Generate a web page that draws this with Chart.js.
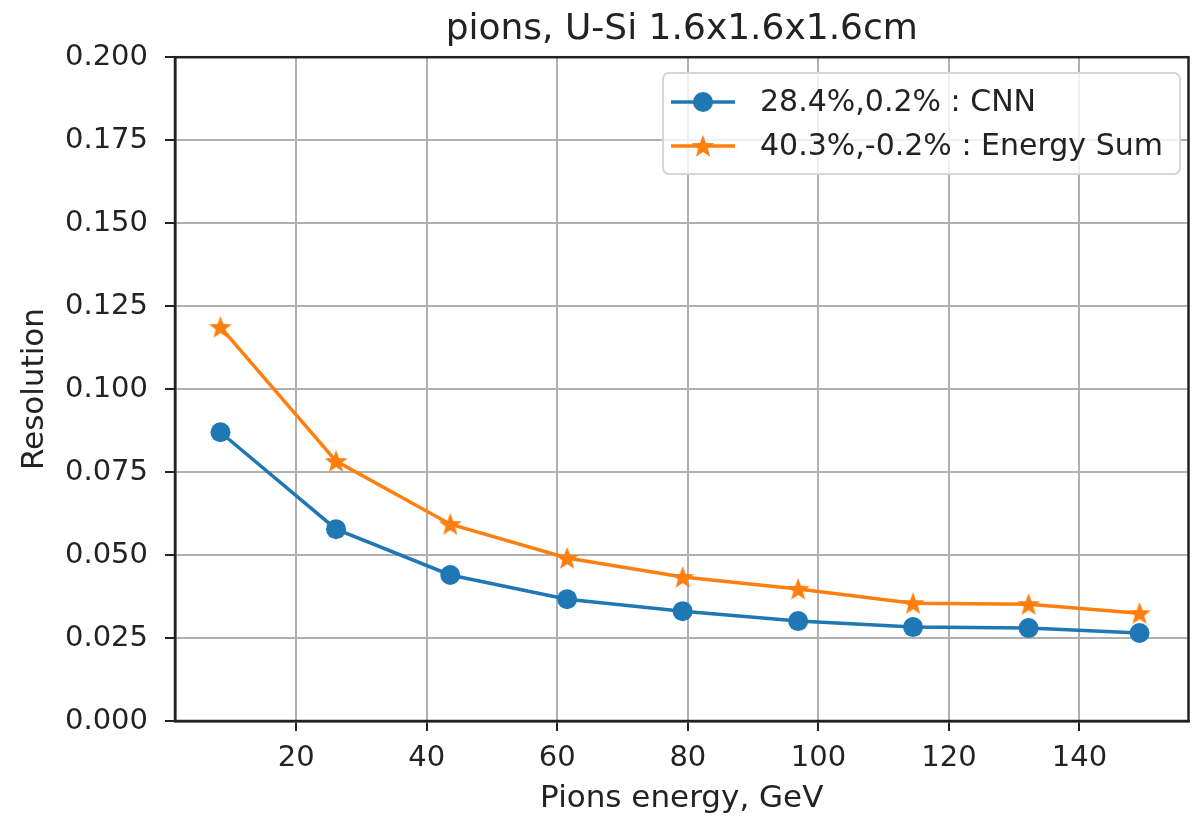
<!DOCTYPE html>
<html>
<head>
<meta charset="utf-8">
<title>pions, U-Si 1.6x1.6x1.6cm</title>
<script src="https://cdn.jsdelivr.net/npm/chart.js@4.4.1/dist/chart.umd.min.js"></script>
<style>
  html, body { margin: 0; padding: 0; background: #fff; overflow: hidden; }
  #wrap { width: 1203px; height: 818px; }
  #res-chart { display: block; }
</style>
</head>
<body>
<div id="wrap"><canvas id="res-chart" width="1203" height="818"></canvas></div>
<script>
// energy resolution vs beam energy, two reconstruction methods
var energies = [8.4, 26.1, 43.6, 61.5, 79.2, 96.9, 114.5, 132.2, 149.2];
var cnnRes = [0.0870, 0.0578, 0.0440, 0.0367, 0.0331, 0.0301, 0.0283, 0.0280, 0.0265];
var sumRes = [0.1187, 0.0783, 0.0593, 0.0491, 0.0434, 0.0398, 0.0355, 0.0352, 0.0325];
var cnnLabel = '28.4%,0.2% : CNN';
var sumLabel = '40.3%,-0.2% : Energy Sum';
var xTicks = [20, 40, 60, 80, 100, 120, 140];
var yTicks = [0, 0.025, 0.05, 0.075, 0.1, 0.125, 0.15, 0.175, 0.2];

var BLUE = '#1f77b4';
var ORANGE = '#ff7f0e';
var FONT = "'DejaVu Sans', sans-serif";

function makeStar(size, color) {
  var c = document.createElement('canvas');
  c.width = size; c.height = size;
  var ctx = c.getContext('2d');
  var cx = size / 2, cy = size / 2 + 1, R = size / 2, r = R * 0.42;
  ctx.beginPath();
  for (var i = 0; i < 10; i++) {
    var rad = (i % 2 === 0) ? R : r;
    var a = -Math.PI / 2 + i * Math.PI / 5;
    var px = cx + rad * Math.cos(a), py = cy + rad * Math.sin(a);
    if (i === 0) ctx.moveTo(px, py); else ctx.lineTo(px, py);
  }
  ctx.closePath();
  ctx.fillStyle = color;
  ctx.fill();
  return c;
}

function toPoints(xs, ys) {
  return xs.map(function (x, i) { return { x: x, y: ys[i] }; });
}

var starImg = makeStar(24, ORANGE);

// top/right spines and the boxed legend inside the axes
var framePlugin = {
  id: 'frameAndLegend',
  afterDraw: function (chart) {
    var ctx = chart.ctx, a = chart.chartArea;
    ctx.save();
    ctx.strokeStyle = '#222';
    ctx.lineWidth = 2.5;
    ctx.strokeRect(a.left, a.top, a.right - a.left, a.bottom - a.top);

    var bx = 663, by = 73, bw = 517, bh = 101, rr = 6;
    ctx.beginPath();
    ctx.moveTo(bx + rr, by);
    ctx.arcTo(bx + bw, by, bx + bw, by + bh, rr);
    ctx.arcTo(bx + bw, by + bh, bx, by + bh, rr);
    ctx.arcTo(bx, by + bh, bx, by, rr);
    ctx.arcTo(bx, by, bx + bw, by, rr);
    ctx.closePath();
    ctx.fillStyle = 'rgba(255,255,255,0.8)';
    ctx.fill();
    ctx.strokeStyle = '#d6d6d6';
    ctx.lineWidth = 2;
    ctx.stroke();

    ctx.font = '30px ' + FONT;
    ctx.textBaseline = 'middle';
    chart.data.datasets.forEach(function (ds, i) {
      var y = by + 29 + i * 44;
      ctx.strokeStyle = ds.borderColor;
      ctx.lineWidth = 3.5;
      ctx.beginPath();
      ctx.moveTo(671, y);
      ctx.lineTo(735, y);
      ctx.stroke();
      if (ds.pointStyle === 'circle') {
        ctx.fillStyle = ds.borderColor;
        ctx.beginPath();
        ctx.arc(703, y, 10, 0, Math.PI * 2);
        ctx.fill();
      } else {
        ctx.drawImage(ds.pointStyle, 703 - 12, y - 12);
      }
      ctx.fillStyle = '#222';
      ctx.fillText(ds.label, 760, y + 1);
    });
    ctx.restore();
  }
};

new Chart(document.getElementById('res-chart'), {
  type: 'line',
  data: {
    datasets: [
      {
        label: cnnLabel,
        data: toPoints(energies, cnnRes),
        borderColor: BLUE,
        backgroundColor: BLUE,
        borderWidth: 3.5,
        pointStyle: 'circle',
        pointRadius: 10,
        pointHoverRadius: 10,
        pointBorderWidth: 0,
        tension: 0
      },
      {
        label: sumLabel,
        data: toPoints(energies, sumRes),
        borderColor: ORANGE,
        backgroundColor: ORANGE,
        borderWidth: 3.5,
        pointStyle: starImg,
        pointRadius: 11,
        pointHoverRadius: 11,
        tension: 0
      }
    ]
  },
  options: {
    responsive: false,
    animation: false,
    devicePixelRatio: 1,
    layout: { padding: { left: 0, right: 8, top: 0, bottom: 0 } },
    plugins: {
      legend: { display: false },
      tooltip: { enabled: false },
      title: {
        display: true,
        fullSize: false,
        text: 'pions, U-Si 1.6x1.6x1.6cm',
        color: '#222',
        font: { family: FONT, size: 36, weight: 'normal', lineHeight: 1.2 },
        padding: { top: 8, bottom: 6 }
      }
    },
    scales: {
      x: {
        type: 'linear',
        min: 1.43,
        max: 156.7,
        afterBuildTicks: function (scale) {
          scale.ticks = xTicks.map(function (v) { return { value: v }; });
        },
        afterFit: function (scale) {
          scale.height = 97;
          scale.paddingLeft = 0;
          scale.paddingRight = 0;
        },
        grid: { color: '#b0b0b0', lineWidth: 2, tickColor: '#222', tickLength: 10 },
        border: { color: '#222', width: 2.5 },
        ticks: {
          color: '#222',
          padding: 10,
          font: { family: FONT, size: 29 },
          maxRotation: 0,
          callback: function (v) { return String(v); }
        },
        title: {
          display: true,
          text: 'Pions energy, GeV',
          color: '#222',
          font: { family: FONT, size: 31 },
          padding: { top: 0, bottom: 0 }
        }
      },
      y: {
        min: 0,
        max: 0.2,
        afterBuildTicks: function (scale) {
          scale.ticks = yTicks.map(function (v) { return { value: v }; });
        },
        afterFit: function (scale) {
          scale.width = 175;
          scale.paddingTop = 0;
          scale.paddingBottom = 0;
        },
        grid: { color: '#b0b0b0', lineWidth: 2, tickColor: '#222', tickLength: 10 },
        border: { color: '#222', width: 2.5 },
        ticks: {
          color: '#222',
          padding: 17,
          font: { family: FONT, size: 29 },
          callback: function (v) { return Number(v).toFixed(3); }
        },
        title: {
          display: true,
          text: 'Resolution',
          color: '#222',
          font: { family: FONT, size: 31 },
          padding: { top: 16, bottom: 0 }
        }
      }
    }
  },
  plugins: [framePlugin]
});
</script>
</body>
</html>
